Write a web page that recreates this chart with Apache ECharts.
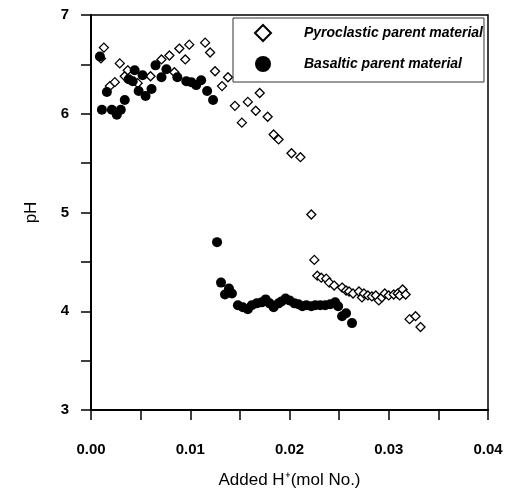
<!DOCTYPE html>
<html>
<head>
<meta charset="utf-8">
<script src="https://cdn.jsdelivr.net/npm/echarts@6/dist/echarts.min.js"></script>
<style>
  html,body{margin:0;padding:0;background:#fff;}
  #main{width:510px;height:494px;}
</style>
</head>
<body>
<div id="main"></div>
<script>
// Added H+ (mol No.) vs pH
let pyroX=[0.0010,0.0013,0.0019,0.0024,0.0029,0.0034,0.0037,0.0047,0.0060,0.0071,0.0079,0.0084,0.0089,0.0095,0.0099,
  0.0115,0.0120,0.0125,0.0132,0.0138,0.0145,0.0152,0.0158,0.0166,0.0170,0.0178,0.0184,0.0189,0.0202,0.0211,
  0.0222,0.0225,0.0228,0.0232,0.0237,0.0240,0.0245,0.0253,0.0257,0.0260,0.0264,0.0270,0.0273,0.0275,0.0279,
  0.0283,0.0287,0.0290,0.0293,0.0296,0.0300,0.0305,0.0309,0.0311,0.0314,0.0317,0.0321,0.0327,0.0332]
let pyroY=[6.56,6.67,6.28,6.32,6.51,6.38,6.44,6.31,6.38,6.55,6.59,6.42,6.66,6.55,6.70,
  6.72,6.62,6.43,6.28,6.37,6.08,5.91,6.12,6.03,6.21,5.97,5.79,5.74,5.60,5.56,
  4.98,4.52,4.36,4.34,4.33,4.29,4.26,4.24,4.21,4.20,4.18,4.20,4.14,4.18,4.16,
  4.15,4.16,4.11,4.14,4.18,4.16,4.17,4.18,4.16,4.22,4.17,3.92,3.95,3.84]

let basX=[0.0009,0.0011,0.0016,0.0021,0.0026,0.0030,0.0034,0.0038,0.0042,0.0044,0.0048,0.0052,0.0055,0.0061,0.0065,
  0.0071,0.0076,0.0087,0.0096,0.0101,0.0106,0.0111,0.0117,0.0123,0.0127,0.0131,0.0135,0.0139,0.0142,0.0148,
  0.0153,0.0158,0.0162,0.0167,0.0172,0.0176,0.0180,0.0184,0.0189,0.0192,0.0196,0.0200,0.0205,0.0209,0.0213,
  0.0217,0.0222,0.0226,0.0231,0.0236,0.0241,0.0246,0.0249,0.0253,0.0257,0.0263]
let basY=[6.58,6.04,6.22,6.04,5.99,6.04,6.14,6.35,6.33,6.44,6.23,6.39,6.18,6.25,6.49,
  6.37,6.45,6.37,6.33,6.32,6.29,6.34,6.23,6.14,4.70,4.29,4.17,4.23,4.18,4.06,
  4.04,4.02,4.06,4.08,4.09,4.12,4.08,4.04,4.08,4.10,4.13,4.11,4.08,4.07,4.05,
  4.06,4.05,4.06,4.06,4.06,4.07,4.09,4.05,3.95,3.98,3.88]

let xTicks=[0,0.04,0.01]
let yTicks=[3,7,1]

let font='"Liberation Sans", Arial, sans-serif'
let myChart=echarts.init(document.getElementById('main'))
let options={
  animation:false,
  backgroundColor:'#fff',
  grid:{
    left:91,
    right:22,
    top:15,
    bottom:79,
    show:true,
    borderColor:'#000',
    borderWidth:1.5
  },
  legend:{
    orient:'vertical',
    left:233,
    top:18,
    padding:[6,1,10,21],
    itemGap:14,
    itemWidth:16,
    itemHeight:16,
    borderColor:'#333',
    borderWidth:1,
    formatter:function(name){
      return '{a|'+name+'}'
    },
    textStyle:{
      fontFamily:font,
      rich:{
        a:{
          fontSize:14,
          fontStyle:'italic',
          fontWeight:'bold',
          color:'#000',
          padding:[0,0,0,28]
        }
      }
    },
    data:['Pyroclastic parent material','Basaltic parent material']
  },
  xAxis:{
    type:'value',
    min:xTicks[0],
    max:xTicks[1],
    interval:xTicks[2],
    name:'Added H⁺(mol No.)',
    nameLocation:'middle',
    nameGap:62,
    nameTextStyle:{
      fontFamily:font,
      fontSize:17,
      color:'#000'
    },
    axisLine:{
      lineStyle:{color:'#000',width:2}
    },
    axisTick:{
      length:10,
      lineStyle:{color:'#000',width:1.5}
    },
    minorTick:{
      show:true,
      splitNumber:2,
      length:10,
      lineStyle:{color:'#000',width:1.5}
    },
    splitLine:{show:false},
    axisLabel:{
      margin:32,
      fontFamily:font,
      fontSize:15,
      fontWeight:'bold',
      color:'#000',
      formatter:function(v){
        return v.toFixed(2)
      }
    }
  },
  yAxis:{
    type:'value',
    min:yTicks[0],
    max:yTicks[1],
    interval:yTicks[2],
    name:'pH',
    nameLocation:'middle',
    nameGap:51,
    nameTextStyle:{
      fontFamily:font,
      fontSize:17,
      color:'#000'
    },
    axisLine:{
      lineStyle:{color:'#000',width:2}
    },
    axisTick:{
      length:10,
      lineStyle:{color:'#000',width:1.5}
    },
    minorTick:{
      show:true,
      splitNumber:2,
      length:10,
      lineStyle:{color:'#000',width:1.5}
    },
    splitLine:{show:false},
    axisLabel:{
      margin:22,
      fontFamily:font,
      fontSize:15,
      fontWeight:'bold',
      color:'#000'
    }
  },
  series:[
    {
      name:'Pyroclastic parent material',
      type:'scatter',
      symbol:'diamond',
      symbolSize:9,
      itemStyle:{
        color:'#fff',
        borderColor:'#000',
        borderWidth:1.3,
        opacity:1
      },
      data:pyroX.map((x,i)=>[x,pyroY[i]])
    },
    {
      name:'Basaltic parent material',
      type:'scatter',
      symbol:'circle',
      symbolSize:10,
      itemStyle:{
        color:'#000',
        opacity:1
      },
      data:basX.map((x,i)=>[x,basY[i]])
    }
  ]
}
myChart.setOption(options)
</script>
</body>
</html>
